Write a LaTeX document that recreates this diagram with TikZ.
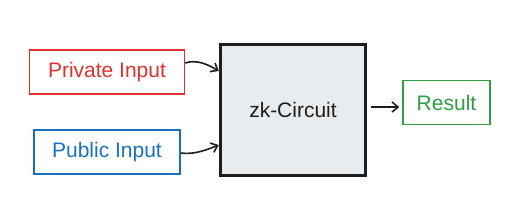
\documentclass[tikz,border=0pt]{standalone}
\usepackage{fontspec}
\setmainfont{Liberation Sans}
\usetikzlibrary{arrows.meta}
\definecolor{exred}{HTML}{E03131}
\definecolor{exblue}{HTML}{1971C2}
\definecolor{exgreen}{HTML}{2F9E44}
\definecolor{exdark}{HTML}{1E1E1E}
\definecolor{exfill}{HTML}{E9ECEF}
\begin{document}
\begin{tikzpicture}[x=1pt,y=-1pt,
  inbox/.style={draw=#1, line width=1.5pt, text=#1, minimum height=44pt, font=\fontsize{21}{24}\selectfont, inner sep=0pt},
  circ/.style={draw=exdark, fill=exfill, line width=3.5pt, minimum width=145pt, minimum height=131pt, font=\fontsize{21}{24}\selectfont, text=exdark, inner sep=0pt},
  conn/.style={draw=exdark, line width=1.6pt, -{Straight Barb[length=6pt,width=10pt]}}]
\useasboundingbox (0,0) rectangle (516,218);
\node[inbox=exred, minimum width=155pt] (priv) at (107,72) {Private Input};
\node[inbox=exblue, minimum width=146pt] (pub) at (107,152) {Public Input};
\node[circ] (zk) at (293,110) {zk-Circuit};
\node[inbox=exgreen, minimum width=87pt] (res) at (446.5,102.5) {Result};
\draw[conn] (priv.east) ++(0,-9) coordinate (p1) .. controls +(12,-4) and +(-10,-6) .. ([yshift=39pt]zk.west);
\draw[conn] (pub.east) ++(0,1) coordinate (p2) .. controls +(14,2) and +(-10,4) .. ([yshift=-35pt]zk.west);
\draw[conn] ([xshift=4pt,yshift=3pt]zk.east) -- ([xshift=-3pt,yshift=-4.5pt]res.west);
\end{tikzpicture}
\end{document}
